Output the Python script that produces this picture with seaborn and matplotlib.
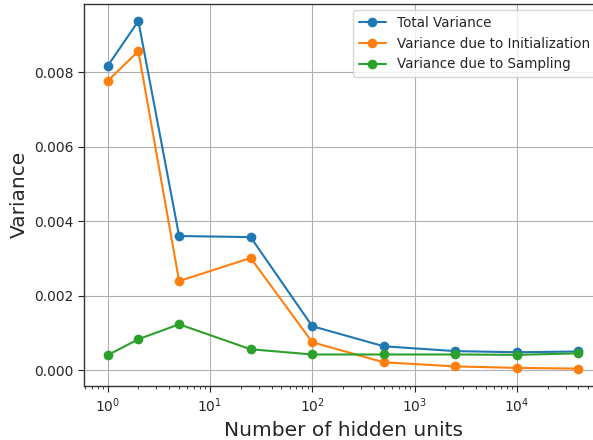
import matplotlib
matplotlib.use("Agg")
import matplotlib.pyplot as plt
import seaborn as sns
import pandas as pd
import numpy as np

hidden_units = [1, 2, 5, 25, 100, 500, 2500, 10000, 40000]
total_var = [0.00816, 0.00937, 0.00360, 0.00357, 0.00118, 0.00064, 0.00051, 0.00048, 0.00050]
init_var = [0.00776, 0.00856, 0.00239, 0.00301, 0.00075, 0.00021, 0.00010, 0.00006, 0.00004]
samp_var = [0.00040, 0.00083, 0.00123, 0.00056, 0.00042, 0.00042, 0.00042, 0.00041, 0.00045]
series_names = ["Total Variance", "Variance due to Initialization", "Variance due to Sampling"]

rows = []
for name, vals in zip(series_names, [total_var, init_var, samp_var]):
    for h, v in zip(hidden_units, vals):
        rows.append({"units": h, "variance": v, "series": name})
df = pd.DataFrame(rows)

sns.set_style("whitegrid")
plt.rcParams['font.family'] = ['DejaVu Sans']

fig = plt.figure(figsize=(5.93, 4.40), dpi=100)
ax = fig.add_axes([0.1417, 0.1227, 0.8735, 0.869])
palette = ["#1f77b4", "#ff7f0e", "#2ca02c"]
sns.lineplot(data=df, x="units", y="variance", hue="series", hue_order=series_names,
             palette=palette, marker="o", markersize=7, markeredgewidth=0,
             linewidth=1.5, ax=ax)
ax.set_xscale("log")
ax.margins(x=0.05, y=0.05)
ax.set_yticks([0, 0.002, 0.004, 0.006, 0.008])
ax.set_yticklabels(["0.000", "0.002", "0.004", "0.006", "0.008"])
ax.grid(True, which="major", color="#b0b0b0", linewidth=0.8)
ax.grid(False, which="minor")
for s in ["left", "bottom", "top", "right"]:
    ax.spines[s].set_visible(True)
    ax.spines[s].set_color("#333333")
    ax.spines[s].set_linewidth(1.0)
ax.tick_params(axis="both", which="major", direction="out", length=4, width=0.8,
               labelsize=10, color="#222222", left=True, bottom=True)
ax.tick_params(axis="x", which="minor", direction="out", length=2, width=0.6,
               bottom=True, color="#222222")
ax.set_xlabel("Number of hidden units", fontsize=14.5)
ax.set_ylabel("Variance", fontsize=14.5)
leg = ax.legend(loc="upper right", fontsize=9.75, frameon=True, framealpha=0.8,
                edgecolor="#cccccc", fancybox=True, borderaxespad=0.5)
leg.set_title(None)
fig.savefig("out.png", dpi=100)
